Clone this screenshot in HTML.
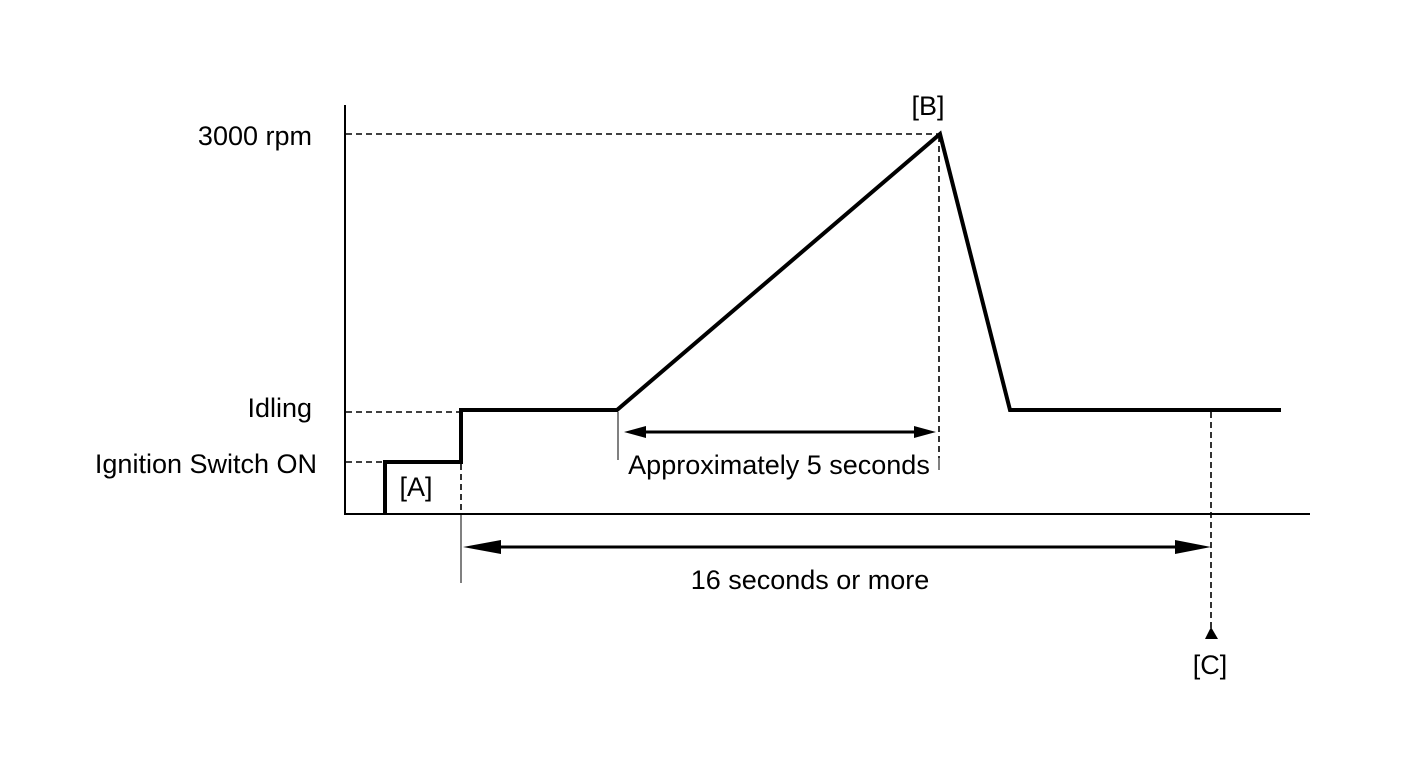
<!DOCTYPE html>
<html><head><meta charset="utf-8"><style>
html,body{margin:0;padding:0;background:#fff;}
svg text{font-family:"Liberation Sans",Arial,sans-serif;font-size:27px;fill:#000;}
</style></head><body>
<svg width="1424" height="759" viewBox="0 0 1424 759" xmlns="http://www.w3.org/2000/svg">
<g stroke="#000" fill="none">
<line x1="345" y1="105" x2="345" y2="515" stroke-width="2"/>
<line x1="344" y1="514" x2="1310" y2="514" stroke-width="2"/>
<g stroke-width="1.6" stroke-dasharray="6,4">
<line x1="346" y1="134" x2="938" y2="134"/>
<line x1="346" y1="412" x2="461" y2="412"/>
<line x1="346" y1="462" x2="385" y2="462"/>
<line x1="939" y1="136" x2="939" y2="458"/>
<line x1="461" y1="464" x2="461" y2="514"/>
<line x1="1211" y1="412" x2="1211" y2="628"/>
</g>
<g stroke-width="1">
<line x1="939" y1="458" x2="939" y2="470"/>
<line x1="618" y1="412" x2="618" y2="460"/>
<line x1="461" y1="514" x2="461" y2="583"/>
</g>
<polyline points="385,514 385,462 461,462 461,410 617,410 940,134 1010,410 1281,410" stroke-width="4" stroke-linejoin="miter"/>
<line x1="640" y1="432" x2="920" y2="432" stroke-width="3"/>
<line x1="490" y1="547" x2="1180" y2="547" stroke-width="3"/>
</g>
<g fill="#000">
<polygon points="624,432 646,426 646,438"/>
<polygon points="936,432 914,426 914,438"/>
<polygon points="463,547 501,540 501,554"/>
<polygon points="1211,547 1175,540 1175,554"/>
<polygon points="1211,627 1205,639 1218,639"/>
</g>
<text x="312" y="145" text-anchor="end">3000 rpm</text>
<text x="312" y="417" text-anchor="end">Idling</text>
<text x="317" y="473" text-anchor="end">Ignition Switch ON</text>
<text x="416" y="496" text-anchor="middle">[A]</text>
<text x="928" y="115" text-anchor="middle">[B]</text>
<text x="779" y="474" text-anchor="middle">Approximately 5 seconds</text>
<text x="810" y="589" text-anchor="middle">16 seconds or more</text>
<text x="1210" y="674" text-anchor="middle">[C]</text>
</svg>
</body></html>
